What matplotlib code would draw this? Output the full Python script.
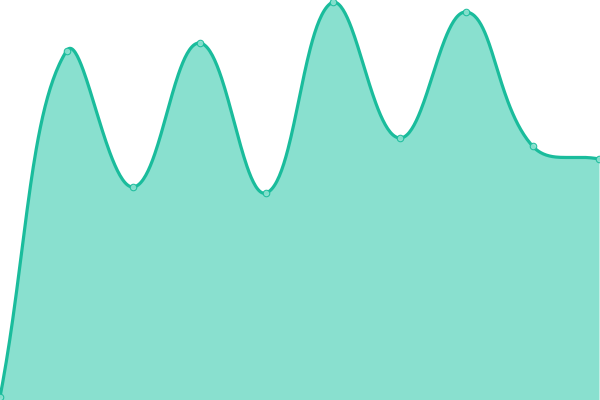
import matplotlib
matplotlib.use('Agg')
import matplotlib.pyplot as plt
import numpy as np

# point positions (pixels from the bottom edge)
x_vals = [0, 66.5, 133, 199.5, 266, 333, 399.5, 466, 532.5, 599]
y_vals = [3, 349, 213, 357, 207, 398, 262, 388, 254, 241]

line_color = '#1abc9c'
fill_color = '#89e0cf'
dot_color = '#8de2d1'


def spline(xs, ys, tension=0.4, n=60, box=(0, 600, 0, 400)):
    # bezier control points the way Chart.js builds them
    pts = np.column_stack([xs, ys]).astype(float)
    k = len(pts)
    cp_prev = np.zeros_like(pts)
    cp_next = np.zeros_like(pts)
    for i in range(k):
        prev = pts[max(i - 1, 0)]
        cur = pts[i]
        nxt = pts[min(i + 1, k - 1)]
        d01 = np.hypot(*(cur - prev))
        d12 = np.hypot(*(nxt - cur))
        tot = d01 + d12
        s01 = d01 / tot if tot else 0
        s12 = d12 / tot if tot else 0
        cp_prev[i] = cur - tension * s01 * (nxt - prev)
        cp_next[i] = cur + tension * s12 * (nxt - prev)
    for cp in (cp_prev, cp_next):
        cp[:, 0] = np.clip(cp[:, 0], box[0], box[1])
        cp[:, 1] = np.clip(cp[:, 1], box[2], box[3])
    t = np.linspace(0, 1, n)[:, None]
    out = []
    for i in range(k - 1):
        b0, b1, b2, b3 = pts[i], cp_next[i], cp_prev[i + 1], pts[i + 1]
        seg = ((1 - t)**3 * b0 + 3 * (1 - t)**2 * t * b1
               + 3 * (1 - t) * t**2 * b2 + t**3 * b3)
        out.append(seg if i == 0 else seg[1:])
    out = np.vstack(out)
    return out[:, 0], out[:, 1]


cx, cy = spline(x_vals, y_vals)

fig = plt.figure(figsize=(6, 4), dpi=100)
ax = fig.add_axes([0, 0, 1, 1])
ax.fill_between(cx, cy, 0, color=fill_color, lw=0)
ax.plot(cx, cy, color=line_color, lw=2.3, solid_capstyle='round')
ax.scatter(x_vals, y_vals, s=22, color=dot_color, edgecolors=line_color,
           linewidths=0.8, alpha=0.9, zorder=3)
ax.set_xlim(0, 600)
ax.set_ylim(0, 400)
ax.axis('off')

fig.savefig('out.png', dpi=100)
